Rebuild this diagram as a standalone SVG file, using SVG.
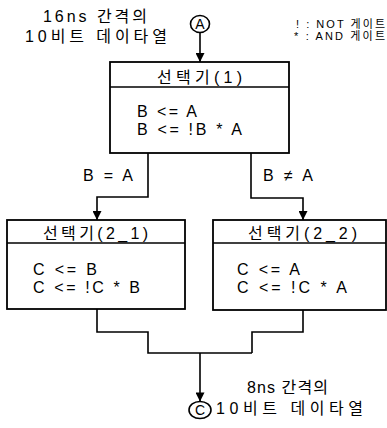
<svg xmlns="http://www.w3.org/2000/svg" width="387" height="428" viewBox="0 0 387 428">
<style>
.box{fill:#fff;stroke:#000;stroke-width:1.8}
.ln{fill:none;stroke:#000;stroke-width:1.6}
.t{font-family:"Liberation Sans","Noto Sans CJK KR",sans-serif;font-size:16px;fill:#000}
.s{font-family:"Liberation Sans","Noto Sans CJK KR",sans-serif;font-size:11px;fill:#000}
.c{font-family:"Liberation Sans",sans-serif;font-size:14px;fill:#000;text-anchor:middle}
</style>
<defs>
<marker id="arr" viewBox="0 0 10 10" refX="10" refY="5" markerWidth="10" markerHeight="9" markerUnits="userSpaceOnUse" orient="auto">
<path d="M0,0 L10,5 L0,10 z" fill="#000"/>
</marker>
</defs>
<rect width="387" height="428" fill="#fff"/>
<g id="labels">
<text class="t" x="43" y="22" textLength="104" lengthAdjust="spacing">16ns 간격의</text>
<text class="t" x="25" y="42" textLength="142" lengthAdjust="spacing">10비트 데이타열</text>
<text class="s" x="296" y="28" textLength="89" lengthAdjust="spacing">! : NOT 게이트</text>
<text class="s" x="294" y="40" textLength="91" lengthAdjust="spacing">* : AND 게이트</text>
<text class="t" x="83" y="181" textLength="50" lengthAdjust="spacing">B = A</text>
<text class="t" x="263" y="181" textLength="50" lengthAdjust="spacing">B ≠ A</text>
<text class="t" x="247" y="393" textLength="81" lengthAdjust="spacing">8ns 간격의</text>
<text class="t" x="216" y="414" textLength="147" lengthAdjust="spacing">10비트 데이타열</text>
</g>
<g id="nodeA">
<ellipse cx="200" cy="24" rx="9.5" ry="8.5" fill="#fff" stroke="#000" stroke-width="1.6"/>
<text class="c" x="200" y="29">A</text>
</g>
<g id="sel1">
<rect class="box" x="110" y="62" width="179" height="91"/>
<line class="ln" x1="110" y1="87" x2="289" y2="87"/>
<text class="t" x="157" y="83" textLength="85" lengthAdjust="spacing">선택기(1)</text>
<text class="t" x="137" y="117" textLength="60" lengthAdjust="spacing">B &lt;= A</text>
<text class="t" x="137" y="135" textLength="105" lengthAdjust="spacing">B &lt;= !B * A</text>
</g>
<g id="sel21">
<rect class="box" x="7" y="220" width="178" height="89"/>
<line class="ln" x1="7" y1="243" x2="185" y2="243"/>
<text class="t" x="43" y="239" textLength="105" lengthAdjust="spacing">선택기(2_1)</text>
<text class="t" x="33" y="275" textLength="64" lengthAdjust="spacing">C &lt;= B</text>
<text class="t" x="33" y="293" textLength="107" lengthAdjust="spacing">C &lt;= !C * B</text>
</g>
<g id="sel22">
<rect class="box" x="213" y="220" width="173" height="90"/>
<line class="ln" x1="213" y1="243" x2="386" y2="243"/>
<text class="t" x="248" y="239" textLength="109" lengthAdjust="spacing">선택기(2_2)</text>
<text class="t" x="237" y="275" textLength="63" lengthAdjust="spacing">C &lt;= A</text>
<text class="t" x="237" y="293" textLength="110" lengthAdjust="spacing">C &lt;= !C * A</text>
</g>
<g id="nodeC">
<ellipse cx="200" cy="410" rx="11" ry="8.5" fill="#fff" stroke="#000" stroke-width="1.6"/>
<text class="c" x="200" y="415">C</text>
</g>
<g id="connectors">
<path class="ln" d="M200,32.5 V62" marker-end="url(#arr)"/>
<path class="ln" d="M148,153 V197 H97 V220" marker-end="url(#arr)"/>
<path class="ln" d="M251,153 V198 H303 V220" marker-end="url(#arr)"/>
<path class="ln" d="M97,309 V332 H148 V353 H252"/>
<path class="ln" d="M303,310 V332 H252 V353"/>
<path class="ln" d="M200,353 V401.5" marker-end="url(#arr)"/>
</g>
</svg>
